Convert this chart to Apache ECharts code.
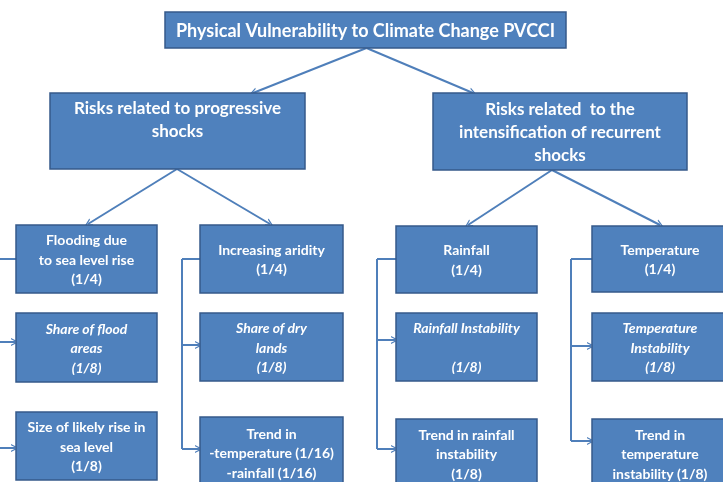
<!DOCTYPE html>
<html>
<head>
<meta charset="utf-8">
<script src="https://cdn.jsdelivr.net/npm/echarts@6/dist/echarts.min.js"></script>
<style>
  html, body { margin: 0; padding: 0; background: #ffffff; }
  #main { width: 723px; height: 482px; }
</style>
</head>
<body>
<div id="main"></div>
<script>
// texts of the tree, top to bottom
const rootLabel = 'Physical Vulnerability to Climate Change PVCCI';
const groupLabels = [
  'Risks related to progressive\nshocks\n',
  'Risks related  to the\nintensification of recurrent\nshocks'
];
const riskLabels = [
  'Flooding due\nto sea level rise\n(1/4)',
  'Increasing aridity\n(1/4)',
  'Rainfall\n(1/4)',
  'Temperature\n(1/4)'
];
const indicatorLabels = [
  ['Share of flood\nareas\n(1/8)', 'Size of likely rise in\nsea level\n(1/8)'],
  ['Share of dry\nlands\n(1/8)', 'Trend in\n-temperature (1/16)\n-rainfall (1/16)'],
  ['Rainfall Instability\n\n(1/8)', 'Trend in rainfall\ninstability\n(1/8)'],
  ['Temperature\nInstability\n(1/8)', 'Trend in\ntemperature\ninstability (1/8)']
];
// which group each risk belongs to
const riskGroup = [0, 0, 1, 1];

// layout (pixel units of the hidden axes)
const rootBox = [165, 12, 566, 48];
const groupBoxes = [[50, 93, 305, 169], [433, 93, 687, 170]];
const colX0 = [16, 200, 396, 592];
const colX1 = [157, 343, 537, 728];
const rowY0 = [[225, 313, 412], [225, 313, 417], [226, 313, 419], [226, 313, 419]];
const rowY1 = [[293, 382, 480], [293, 381, 488], [293, 381, 488], [292, 381, 488]];
const bracketX = [-3, 182, 377, 571];
const arrowY = [[342, 448], [345, 449], [340, 449], [346, 441]];

const boxes = [];
boxes.push({ value: rootBox, text: rootLabel, level: 0, italic: false });
groupLabels.forEach((t, i) => boxes.push({ value: groupBoxes[i], text: t, level: 1, italic: false }));
riskLabels.forEach((t, c) => {
  boxes.push({ value: [colX0[c], rowY0[c][0], colX1[c], rowY1[c][0]], text: t, level: 2, italic: false });
  indicatorLabels[c].forEach((s, r) => {
    boxes.push({ value: [colX0[c], rowY0[c][r + 1], colX1[c], rowY1[c][r + 1]], text: s, level: 2, italic: r === 0 });
  });
});

// connectors
const plainSegs = [];
const arrowSegs = [];
const rootX = (rootBox[0] + rootBox[2]) / 2 + 1;
const groupTopX = [253, 473];
groupBoxes.forEach((g, i) => arrowSegs.push([[rootX, rootBox[3]], [groupTopX[i], g[1]]]));
const groupBottomX = [177, 552];
const riskTopX = [88, 270, 468, 660];
riskLabels.forEach((t, c) => {
  const g = groupBoxes[riskGroup[c]];
  arrowSegs.push([[groupBottomX[riskGroup[c]], g[3]], [riskTopX[c], rowY0[c][0] - 1]]);
  const midY = 259;
  plainSegs.push([[colX0[c], midY], [bracketX[c], midY]]);
  plainSegs.push([[bracketX[c], midY], [bracketX[c], arrowY[c][1]]]);
  arrowY[c].forEach(y => arrowSegs.push([[bracketX[c], y], [colX0[c] - 1, y]]));
});

const fonts = ['bold 18px Lato', 'bold 17px Lato', 'bold 14px Lato'];
const lineHeights = [20, 23, 19.5];
const lineColor = '#4f7fba';

const chart = echarts.init(document.getElementById('main'));
chart.setOption({
  backgroundColor: '#ffffff',
  animation: false,
  grid: { left: 0, right: 0, top: 0, bottom: 0 },
  xAxis: { type: 'value', min: 0, max: 723, show: false },
  yAxis: { type: 'value', min: 0, max: 482, inverse: true, show: false },
  series: [
    {
      type: 'lines',
      coordinateSystem: 'cartesian2d',
      silent: true,
      lineStyle: { color: lineColor, width: 2, opacity: 1 },
      symbol: 'none',
      data: plainSegs.map(s => ({ coords: s }))
    },
    {
      type: 'lines',
      coordinateSystem: 'cartesian2d',
      silent: true,
      lineStyle: { color: lineColor, width: 2, opacity: 1 },
      symbol: ['none', 'path://M0,10 L6,0 L12,10 L10,10 L6,3.4 L2,10 Z'],
      symbolSize: [12, 8],
      data: arrowSegs.map(s => ({ coords: s }))
    },
    {
      type: 'custom',
      silent: true,
      data: boxes.map(b => b.value),
      renderItem: function (params, api) {
        const b = boxes[params.dataIndex];
        const p0 = api.coord([api.value(0), api.value(1)]);
        const p1 = api.coord([api.value(2), api.value(3)]);
        return {
          type: 'group',
          children: [
            {
              type: 'rect',
              shape: { x: p0[0], y: p0[1], width: p1[0] - p0[0], height: p1[1] - p0[1] },
              style: { fill: '#4f81bd', stroke: '#36598a', lineWidth: 1.5 }
            },
            {
              type: 'text',
              style: {
                text: b.text,
                x: (p0[0] + p1[0]) / 2,
                y: (p0[1] + p1[1]) / 2 + 1,
                align: 'center',
                verticalAlign: 'middle',
                font: (b.italic ? 'italic ' : '') + fonts[b.level],
                lineHeight: lineHeights[b.level],
                fill: '#ffffff'
              }
            }
          ]
        };
      }
    }
  ]
});
</script>
</body>
</html>
